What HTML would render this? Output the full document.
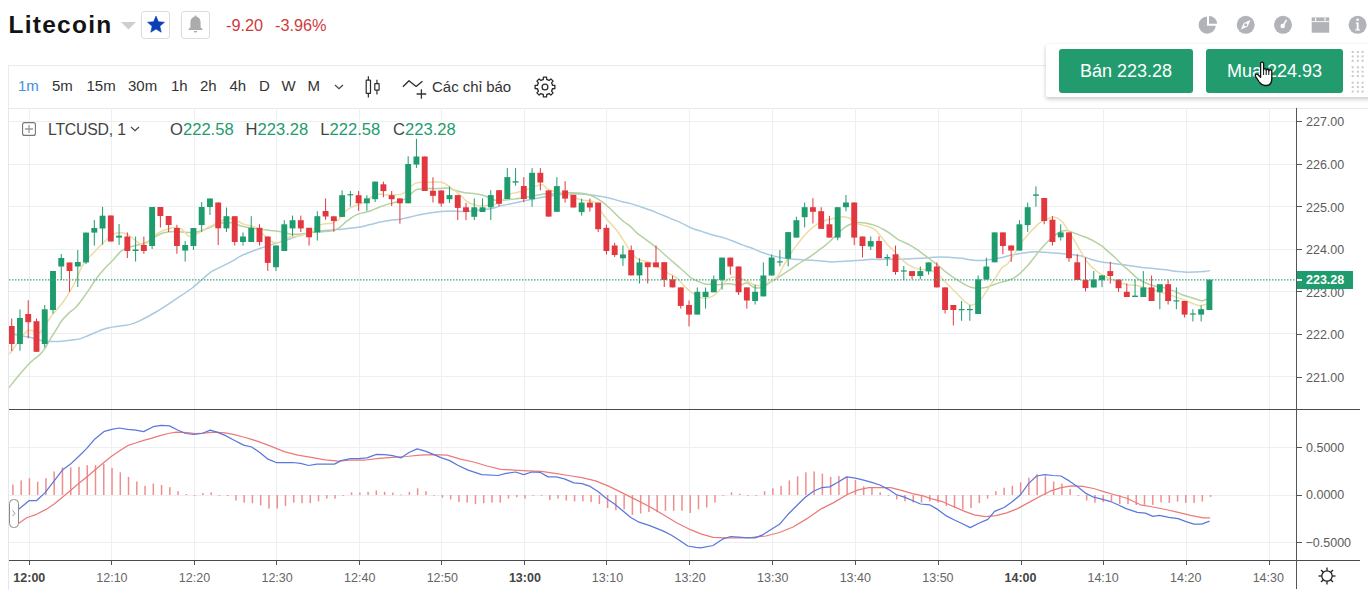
<!DOCTYPE html>
<html><head><meta charset="utf-8">
<style>
*{margin:0;padding:0;box-sizing:border-box}
html,body{width:1368px;height:590px;overflow:hidden;background:#fff;font-family:"Liberation Sans",sans-serif;}
.a{position:absolute;white-space:nowrap}
#title{left:8.5px;top:10px;font-size:24.5px;font-weight:bold;color:#131313;line-height:30px;letter-spacing:1.25px}
.chg{top:14.6px;font-size:16.3px;color:#cf3b3d;line-height:20px}
.btnbox{position:absolute;top:11px;width:29px;height:28px;border:1px solid #dcdcdc;border-radius:3px;background:#fff}
#toolbar{position:absolute;left:8px;top:65px;width:1360px;height:44px;border-top:1px solid #ebebeb;border-left:1px solid #ebebeb;border-bottom:1px solid #e6e8ea;background:#fff}
.tb{position:absolute;top:77px;font-size:15px;color:#333;line-height:18px}
.pl{position:absolute;left:1306px;font-size:12.5px;color:#5c5c5c;line-height:14px}
.tl{position:absolute;top:570.5px;width:60px;text-align:center;font-size:12.5px;color:#666;line-height:14px}
.tl.b{font-weight:bold;color:#444}
.lg{position:absolute;top:119.8px;font-size:16.6px;line-height:19px;color:#444}
.lg span{color:#1f9c6d}
#panel{position:absolute;left:1046px;top:44px;width:330px;height:53px;background:#fff;box-shadow:0 2px 4px rgba(0,0,0,0.22);border-radius:2px}
.bs{position:absolute;top:49px;height:44px;background:#229c6e;border-radius:3px;color:#fff;font-size:18px;line-height:44px;text-align:center}
</style></head><body>
<div id="toolbar"></div>
<svg width="1368" height="590" viewBox="0 0 1368 590" style="position:absolute;left:0;top:0"><g fill="#eeeff0"><rect x="29" y="108" width="1" height="452"/><rect x="111" y="108" width="1" height="452"/><rect x="194" y="108" width="1" height="452"/><rect x="276" y="108" width="1" height="452"/><rect x="359" y="108" width="1" height="452"/><rect x="441" y="108" width="1" height="452"/><rect x="524" y="108" width="1" height="452"/><rect x="606" y="108" width="1" height="452"/><rect x="689" y="108" width="1" height="452"/><rect x="772" y="108" width="1" height="452"/><rect x="855" y="108" width="1" height="452"/><rect x="938" y="108" width="1" height="452"/><rect x="1021" y="108" width="1" height="452"/><rect x="1103" y="108" width="1" height="452"/><rect x="1186" y="108" width="1" height="452"/><rect x="1269" y="108" width="1" height="452"/><rect x="9" y="121" width="1288" height="1"/><rect x="9" y="164" width="1288" height="1"/><rect x="9" y="206" width="1288" height="1"/><rect x="9" y="249" width="1288" height="1"/><rect x="9" y="291" width="1288" height="1"/><rect x="9" y="333" width="1288" height="1"/><rect x="9" y="376" width="1288" height="1"/><rect x="9" y="447" width="1288" height="1"/><rect x="9" y="495" width="1288" height="1"/><rect x="9" y="542" width="1288" height="1"/></g><path d="M9.0,334.0 C9.9,334.1 11.8,334.1 14.2,334.5 C16.6,334.9 20.9,335.8 23.7,336.3 C26.5,336.8 28.8,336.9 30.8,337.4 C32.8,337.9 33.2,338.6 35.6,339.2 C38.0,339.8 41.9,340.6 45.1,341.0 C48.3,341.4 51.4,341.6 54.6,341.6 C57.8,341.6 60.9,341.3 64.1,341.0 C67.2,340.7 70.7,340.2 73.5,339.8 C76.3,339.4 78.3,339.3 80.7,338.6 C83.1,337.9 85.4,336.7 87.8,335.7 C90.2,334.7 92.5,333.7 94.9,332.7 C97.3,331.7 99.6,330.5 102.0,329.7 C104.4,328.9 106.7,328.2 109.1,327.7 C111.5,327.2 113.9,326.9 116.3,326.5 C118.7,326.1 121.0,326.0 123.4,325.6 C125.8,325.2 127.7,325.2 130.5,324.4 C133.3,323.6 135.8,322.7 140.0,320.6 C144.2,318.5 150.2,315.5 156.0,312.0 C161.8,308.5 169.1,303.6 175.0,299.7 C180.9,295.8 187.1,291.8 191.5,288.5 C195.9,285.2 198.3,282.7 201.7,279.8 C205.1,276.9 208.5,273.6 211.9,271.4 C215.3,269.1 218.6,268.0 222.0,266.3 C225.4,264.6 229.2,262.9 232.2,261.2 C235.2,259.5 237.2,257.8 240.2,256.3 C243.2,254.8 246.9,253.3 250.3,252.0 C253.7,250.7 257.1,249.5 260.5,248.3 C263.9,247.1 267.3,246.0 270.7,244.9 C274.1,243.8 277.4,243.0 280.8,241.9 C284.2,240.8 287.6,239.6 291.0,238.5 C294.4,237.4 297.8,236.1 301.2,235.1 C304.6,234.1 308.0,233.2 311.4,232.5 C314.8,231.8 318.1,231.2 321.5,230.8 C324.9,230.4 328.3,230.3 331.7,230.0 C335.1,229.7 338.5,229.5 341.9,229.2 C345.3,228.9 349.0,228.4 352.0,228.0 C355.0,227.6 357.0,227.6 360.0,227.0 C363.0,226.4 366.8,225.4 370.2,224.6 C373.6,223.8 376.9,222.7 380.3,222.0 C383.7,221.3 387.1,220.8 390.5,220.3 C393.9,219.8 397.3,219.8 400.7,219.2 C404.1,218.6 407.4,217.7 410.8,216.9 C414.2,216.1 417.6,215.1 421.0,214.4 C424.4,213.7 427.8,213.2 431.2,212.7 C434.6,212.2 438.0,211.7 441.4,211.4 C444.8,211.1 448.1,211.0 451.5,211.0 C454.9,211.0 458.3,211.4 461.7,211.4 C465.1,211.4 468.5,211.3 471.9,211.0 C475.3,210.7 478.6,210.1 482.0,209.7 C485.4,209.3 489.2,209.1 492.2,208.5 C495.2,207.9 497.2,206.7 500.2,205.9 C503.2,205.1 506.9,204.6 510.3,203.9 C513.7,203.2 517.1,202.4 520.5,201.7 C523.9,201.0 527.3,200.2 530.7,199.5 C534.1,198.8 537.4,198.1 540.8,197.5 C544.2,196.9 547.6,196.3 551.0,195.8 C554.4,195.3 557.8,194.8 561.2,194.4 C564.6,194.1 568.0,193.8 571.4,193.7 C574.8,193.6 578.1,193.9 581.5,194.1 C584.9,194.3 588.3,194.5 591.7,194.9 C595.1,195.3 598.5,195.9 601.9,196.6 C605.3,197.2 608.6,198.0 612.0,198.8 C615.4,199.7 619.2,200.9 622.2,201.7 C625.2,202.5 627.0,202.6 630.0,203.4 C633.0,204.2 637.0,205.7 640.5,206.8 C644.0,207.9 647.3,208.9 650.7,210.2 C654.1,211.5 657.4,213.0 660.8,214.4 C664.2,215.8 667.6,217.2 671.0,218.6 C674.4,220.0 677.8,221.3 681.2,222.9 C684.6,224.5 688.0,226.6 691.4,228.0 C694.8,229.4 698.1,230.3 701.5,231.4 C704.9,232.5 708.3,233.7 711.7,234.7 C715.1,235.7 718.5,236.3 721.9,237.3 C725.3,238.3 728.6,239.4 732.0,240.7 C735.4,242.0 739.2,243.8 742.2,244.9 C745.2,246.0 747.2,246.4 750.2,247.5 C753.2,248.6 756.9,250.4 760.3,251.7 C763.7,253.0 767.1,254.1 770.5,255.1 C773.9,256.1 777.3,257.0 780.7,257.6 C784.1,258.2 787.4,258.6 790.8,259.0 C794.2,259.4 797.6,259.5 801.0,259.7 C804.4,259.9 807.8,260.0 811.2,260.2 C814.6,260.4 818.0,260.7 821.4,261.0 C824.8,261.3 828.1,261.8 831.5,261.9 C834.9,262.0 838.3,261.6 841.7,261.4 C845.1,261.2 848.5,260.9 851.9,260.7 C855.3,260.5 858.6,260.4 862.0,260.2 C865.4,260.0 869.2,259.4 872.2,259.3 C875.2,259.2 877.2,259.5 880.2,259.5 C883.2,259.5 886.9,259.2 890.3,259.2 C893.7,259.1 897.1,259.3 900.5,259.2 C903.9,259.1 907.3,258.9 910.7,258.8 C914.1,258.7 917.4,258.5 920.8,258.3 C924.2,258.1 927.6,257.7 931.0,257.5 C934.4,257.3 937.8,257.0 941.2,257.0 C944.6,257.0 948.0,257.3 951.4,257.5 C954.8,257.7 958.1,257.9 961.5,258.3 C964.9,258.7 968.3,259.6 971.7,260.0 C975.1,260.4 978.5,260.6 981.9,260.5 C985.3,260.4 988.6,259.7 992.0,259.2 C995.4,258.7 999.2,258.1 1002.2,257.5 C1005.2,256.9 1007.2,256.0 1010.2,255.3 C1013.2,254.7 1016.9,254.2 1020.3,253.6 C1023.7,253.0 1027.1,252.2 1030.5,251.9 C1033.9,251.6 1037.3,251.8 1040.7,251.9 C1044.1,252.0 1047.4,252.4 1050.8,252.7 C1054.2,253.0 1057.6,253.3 1061.0,253.6 C1064.4,253.9 1067.8,254.0 1071.2,254.4 C1074.6,254.8 1078.0,255.3 1081.4,256.1 C1084.8,257.0 1088.1,258.5 1091.5,259.5 C1094.9,260.5 1098.3,261.4 1101.7,262.0 C1105.1,262.6 1108.5,262.8 1111.9,263.2 C1115.3,263.6 1118.6,264.1 1122.0,264.6 C1125.4,265.1 1128.9,265.5 1132.2,266.0 C1135.5,266.5 1138.3,267.1 1141.9,267.5 C1145.5,267.9 1149.8,268.2 1153.7,268.6 C1157.7,269.0 1161.6,269.3 1165.6,269.8 C1169.5,270.3 1173.9,271.2 1177.4,271.6 C1181.0,272.0 1183.7,272.1 1186.9,272.2 C1190.1,272.3 1193.4,272.1 1196.4,272.0 C1199.4,271.9 1202.4,271.6 1204.7,271.4 C1207.0,271.2 1209.1,270.8 1210.0,270.7" fill="none" stroke="#a9cae0" stroke-width="1.5"/><path d="M9.0,388.0 C9.3,387.5 9.2,387.4 11.0,385.1 C12.8,382.8 17.0,377.5 20.0,374.0 C23.0,370.5 26.6,366.3 28.8,364.0 C31.0,361.7 31.3,361.6 33.2,360.0 C35.1,358.4 38.3,356.1 40.3,354.1 C42.3,352.1 43.5,350.5 45.1,348.1 C46.7,345.7 48.0,342.8 49.8,339.8 C51.6,336.8 53.8,333.5 55.8,330.3 C57.8,327.1 59.5,323.7 61.7,320.8 C63.9,317.9 66.4,315.4 68.8,313.1 C71.2,310.8 73.5,309.7 75.9,307.2 C78.3,304.7 80.8,301.3 83.0,298.3 C85.2,295.3 87.1,292.4 89.3,289.2 C91.5,286.0 93.8,282.1 96.1,279.0 C98.4,275.9 100.9,272.8 102.9,270.5 C104.9,268.2 106.2,266.8 108.0,265.0 C109.8,263.2 111.5,261.7 113.6,259.5 C115.6,257.3 118.0,253.9 120.3,251.9 C122.5,249.9 124.8,248.6 127.1,247.6 C129.4,246.6 131.6,246.5 133.9,245.9 C136.2,245.3 138.4,244.9 140.7,244.2 C143.0,243.5 145.2,242.8 147.5,241.7 C149.8,240.6 151.9,238.8 154.2,237.5 C156.4,236.2 158.7,234.6 161.0,233.7 C163.3,232.8 165.5,232.4 167.8,232.0 C170.1,231.6 172.3,231.5 174.6,231.5 C176.9,231.5 179.2,231.8 181.4,232.0 C183.7,232.2 185.8,232.3 188.1,232.4 C190.3,232.5 192.6,232.7 194.9,232.4 C197.2,232.1 199.4,231.4 201.7,230.7 C204.0,230.0 206.2,229.1 208.5,228.1 C210.8,227.1 213.1,225.5 215.3,224.7 C217.6,223.8 219.8,223.3 222.0,223.0 C224.2,222.7 226.5,222.5 228.8,222.6 C231.1,222.7 234.1,223.3 236.0,223.8 C237.9,224.3 237.8,225.1 240.2,225.8 C242.6,226.5 246.9,227.2 250.3,227.8 C253.7,228.4 257.1,228.8 260.5,229.2 C263.9,229.6 267.3,230.1 270.7,230.5 C274.1,230.9 277.4,231.1 280.8,231.7 C284.2,232.3 287.6,233.8 291.0,234.2 C294.4,234.6 297.8,234.2 301.2,233.9 C304.6,233.6 308.0,232.9 311.4,232.5 C314.8,232.1 318.1,232.0 321.5,231.7 C324.9,231.4 328.9,231.4 331.7,230.8 C334.5,230.2 336.2,229.7 338.5,228.3 C340.8,226.9 343.1,224.2 345.3,222.4 C347.6,220.6 349.8,218.7 352.0,217.3 C354.2,215.9 356.5,214.8 358.8,213.9 C361.1,213.1 363.7,212.7 365.6,212.2 C367.5,211.7 367.8,211.9 370.2,211.0 C372.6,210.1 376.9,208.1 380.3,206.8 C383.7,205.5 387.1,204.4 390.5,203.4 C393.9,202.4 397.9,201.8 400.7,200.8 C403.5,199.8 405.5,198.9 407.5,197.5 C409.5,196.1 410.8,193.8 412.5,192.4 C414.2,191.0 415.1,189.9 417.6,189.3 C420.2,188.7 424.4,188.7 427.8,188.6 C431.2,188.5 434.6,188.7 438.0,188.6 C441.4,188.5 445.3,187.8 448.1,188.1 C450.9,188.4 452.1,189.5 454.9,190.3 C457.7,191.1 461.7,192.1 465.1,192.7 C468.5,193.3 471.9,193.1 475.3,193.7 C478.7,194.2 482.6,195.0 485.4,196.0 C488.2,197.0 489.5,198.8 492.0,199.5 C494.5,200.2 497.1,200.5 500.2,200.5 C503.2,200.5 506.9,199.9 510.3,199.5 C513.7,199.1 517.1,198.8 520.5,198.3 C523.9,197.8 527.3,197.2 530.7,196.6 C534.1,195.9 537.4,194.9 540.8,194.4 C544.2,193.9 547.6,193.9 551.0,193.7 C554.4,193.5 557.8,193.4 561.2,193.2 C564.6,193.0 568.0,192.7 571.4,192.7 C574.8,192.7 578.1,192.7 581.5,193.2 C584.9,193.7 588.3,194.4 591.7,195.8 C595.1,197.2 598.9,199.6 601.9,201.7 C604.9,203.8 607.5,206.2 610.0,208.5 C612.5,210.8 614.5,213.1 616.8,215.3 C619.1,217.5 621.4,219.7 623.6,221.5 C625.9,223.3 628.0,224.4 630.3,226.3 C632.5,228.2 634.8,231.1 637.1,233.1 C639.4,235.1 641.6,236.4 643.9,238.1 C646.2,239.8 648.4,241.5 650.7,243.2 C653.0,244.9 655.2,246.5 657.5,248.3 C659.8,250.1 662.0,252.2 664.2,254.2 C666.5,256.2 668.7,258.2 671.0,260.2 C673.3,262.2 675.5,264.1 677.8,266.1 C680.1,268.1 682.3,270.0 684.6,272.0 C686.9,274.0 689.1,276.4 691.4,278.0 C693.6,279.6 695.9,280.4 698.1,281.4 C700.4,282.4 702.6,283.4 704.9,283.9 C707.2,284.4 709.4,284.3 711.7,284.4 C714.0,284.5 716.2,284.8 718.5,284.7 C720.8,284.6 723.0,284.0 725.3,283.9 C727.5,283.8 729.8,283.6 732.0,283.9 C734.2,284.2 736.3,285.7 738.8,285.6 C741.3,285.5 744.3,282.8 746.8,283.1 C749.3,283.4 751.6,286.5 753.6,287.3 C755.6,288.1 756.9,288.2 758.6,288.1 C760.3,288.0 761.7,287.4 763.7,286.4 C765.7,285.4 768.2,283.6 770.5,282.2 C772.8,280.8 775.0,279.4 777.3,278.0 C779.6,276.6 781.9,275.2 784.1,273.7 C786.4,272.2 788.5,270.8 790.8,269.2 C793.0,267.6 795.3,265.9 797.6,264.4 C799.9,262.9 802.1,261.6 804.4,260.2 C806.7,258.8 808.9,257.5 811.2,255.9 C813.5,254.3 815.8,252.5 818.0,250.8 C820.2,249.1 822.5,247.6 824.7,245.8 C827.0,244.0 829.2,241.9 831.5,239.8 C833.8,237.7 836.0,235.2 838.3,233.1 C840.6,231.0 842.8,228.7 845.1,227.1 C847.4,225.5 849.6,224.5 851.9,223.7 C854.1,222.9 856.4,222.5 858.6,222.4 C860.9,222.3 863.1,222.5 865.4,222.9 C867.7,223.3 870.3,224.1 872.2,224.6 C874.1,225.1 874.9,225.3 876.8,226.1 C878.7,226.9 881.4,228.2 883.6,229.5 C885.9,230.8 888.0,232.1 890.3,233.7 C892.5,235.2 894.8,237.4 897.1,238.8 C899.4,240.2 901.6,241.1 903.9,242.2 C906.2,243.3 908.4,244.3 910.7,245.6 C913.0,246.9 915.2,248.2 917.5,249.8 C919.8,251.4 922.0,253.2 924.2,254.9 C926.5,256.6 928.7,258.3 931.0,260.0 C933.3,261.7 935.5,263.3 937.8,265.1 C940.1,266.9 942.3,269.2 944.6,271.0 C946.9,272.8 949.1,274.6 951.4,276.1 C953.6,277.7 955.9,278.9 958.1,280.3 C960.4,281.7 962.6,283.4 964.9,284.6 C967.2,285.8 969.4,287.0 971.7,287.6 C974.0,288.2 976.2,288.3 978.5,288.3 C980.8,288.3 983.0,288.1 985.3,287.6 C987.5,287.1 989.8,286.2 992.0,285.4 C994.2,284.6 996.3,283.7 998.8,282.9 C1001.3,282.1 1004.3,281.5 1006.8,280.7 C1009.3,279.9 1011.4,279.4 1013.6,278.1 C1015.9,276.8 1018.0,275.1 1020.3,273.1 C1022.5,271.1 1024.8,268.9 1027.1,266.3 C1029.4,263.8 1031.6,260.6 1033.9,257.8 C1036.2,255.0 1038.4,252.0 1040.7,249.3 C1043.0,246.6 1045.2,243.9 1047.5,241.7 C1049.8,239.4 1052.0,237.5 1054.2,235.8 C1056.5,234.1 1058.7,232.3 1061.0,231.5 C1063.3,230.7 1065.5,230.4 1067.8,230.7 C1070.1,231.0 1072.3,232.3 1074.6,233.2 C1076.9,234.0 1079.2,235.0 1081.4,235.8 C1083.7,236.7 1085.8,237.3 1088.1,238.3 C1090.3,239.3 1092.6,240.4 1094.9,241.7 C1097.2,243.0 1099.4,244.2 1101.7,245.9 C1104.0,247.6 1106.2,249.9 1108.5,251.9 C1110.8,253.9 1113.0,255.7 1115.3,257.8 C1117.5,259.9 1119.8,262.5 1122.0,264.6 C1124.2,266.7 1126.3,268.2 1128.8,270.5 C1131.3,272.8 1134.5,276.1 1137.1,278.1 C1139.7,280.1 1141.4,281.0 1144.2,282.3 C1147.0,283.6 1150.5,284.9 1153.7,285.8 C1156.9,286.7 1160.0,286.8 1163.2,287.6 C1166.4,288.4 1169.5,289.4 1172.7,290.6 C1175.9,291.8 1179.0,293.5 1182.2,294.7 C1185.4,295.9 1188.6,296.7 1191.7,297.7 C1194.8,298.7 1198.7,300.4 1201.1,300.7 C1203.5,301.0 1204.5,300.1 1205.9,299.5 C1207.3,298.9 1209.0,297.4 1209.6,297.0" fill="none" stroke="#b5d2a0" stroke-width="1.5"/><path d="M9.0,354.0 C9.5,353.5 10.4,353.1 11.9,351.1 C13.4,349.1 15.8,345.0 17.8,342.2 C19.8,339.4 21.9,336.5 23.7,334.5 C25.5,332.5 26.9,330.9 28.5,330.3 C30.1,329.7 31.2,330.6 33.2,330.9 C35.2,331.2 37.9,333.6 40.3,332.1 C42.7,330.6 45.4,324.9 47.4,322.0 C49.4,319.1 50.6,317.0 52.2,314.9 C53.8,312.8 55.0,311.9 56.9,309.6 C58.8,307.3 61.8,304.0 63.9,301.0 C66.0,298.0 67.8,295.1 69.8,291.7 C71.8,288.3 74.0,284.5 75.8,280.7 C77.6,276.9 79.1,272.2 80.8,268.8 C82.5,265.4 83.9,262.8 85.9,260.3 C87.9,257.8 90.4,255.9 92.7,253.6 C95.0,251.3 97.2,248.9 99.5,246.5 C101.8,244.1 104.5,241.3 106.8,239.2 C109.1,237.1 111.3,235.2 113.6,234.1 C115.8,233.0 118.0,232.4 120.3,232.4 C122.5,232.4 124.8,233.0 127.1,234.1 C129.4,235.2 131.6,237.5 133.9,239.2 C136.2,240.9 138.4,243.6 140.7,244.2 C143.0,244.8 145.2,243.9 147.5,242.5 C149.8,241.1 151.9,237.6 154.2,235.8 C156.4,234.0 158.7,232.6 161.0,231.5 C163.3,230.4 165.5,229.7 167.8,229.0 C170.1,228.3 172.3,227.6 174.6,227.6 C176.9,227.6 179.2,227.6 181.4,229.0 C183.7,230.4 186.4,234.6 188.1,235.8 C189.8,237.0 189.8,236.5 191.5,236.1 C193.2,235.7 196.0,234.4 198.3,233.2 C200.6,232.0 202.8,230.3 205.1,229.0 C207.4,227.7 209.7,226.7 211.9,225.6 C214.2,224.5 216.3,223.2 218.6,222.2 C220.8,221.2 223.4,220.1 225.4,219.5 C227.4,218.9 228.6,218.4 230.5,218.6 C232.4,218.8 234.6,219.6 236.8,220.5 C239.0,221.4 241.3,223.2 243.6,224.1 C245.8,225.0 248.1,225.1 250.3,225.8 C252.6,226.5 254.8,226.8 257.1,228.3 C259.4,229.9 261.6,233.0 263.9,235.1 C266.2,237.2 268.4,239.7 270.7,241.0 C273.0,242.3 275.2,243.0 277.5,242.7 C279.8,242.4 281.9,240.3 284.2,239.3 C286.4,238.3 288.7,237.4 291.0,236.8 C293.3,236.2 295.5,236.3 297.8,235.9 C300.1,235.5 302.3,235.0 304.6,234.2 C306.9,233.3 309.1,232.2 311.4,230.8 C313.6,229.4 315.9,227.0 318.1,225.8 C320.4,224.6 322.6,224.1 324.9,223.7 C327.2,223.3 329.4,223.8 331.7,223.2 C334.0,222.5 336.2,221.8 338.5,219.8 C340.8,217.8 343.1,213.5 345.3,211.4 C347.6,209.3 349.8,208.3 352.0,207.1 C354.2,205.9 356.3,205.4 358.8,204.4 C361.3,203.4 364.3,202.3 366.8,200.8 C369.3,199.3 371.4,196.6 373.6,195.5 C375.9,194.4 378.1,194.2 380.3,194.1 C382.6,194.0 384.8,194.8 387.1,194.9 C389.4,195.0 391.6,195.0 393.9,194.9 C396.2,194.8 398.7,195.0 400.7,194.4 C402.7,193.8 404.1,192.8 405.8,191.5 C407.5,190.2 409.1,187.8 410.8,186.4 C412.5,185.0 413.9,183.8 415.9,183.1 C417.9,182.4 420.1,182.3 422.7,182.2 C425.2,182.0 428.6,182.2 431.2,182.2 C433.8,182.1 436.0,181.8 438.0,181.9 C440.0,182.0 441.4,182.1 443.1,182.7 C444.8,183.3 446.1,184.3 448.1,185.6 C450.1,186.9 452.6,188.9 454.9,190.7 C457.2,192.5 459.4,194.6 461.7,196.6 C464.0,198.6 466.2,201.1 468.5,202.5 C470.8,203.9 473.1,204.5 475.3,205.1 C477.6,205.7 479.8,205.9 482.0,205.9 C484.2,205.9 486.5,205.4 488.8,205.1 C491.1,204.8 493.1,205.2 495.6,204.2 C498.1,203.2 501.2,200.9 503.6,199.2 C506.1,197.5 508.1,195.2 510.3,194.1 C512.5,193.0 514.8,193.0 517.1,192.4 C519.4,191.8 521.6,191.4 523.9,190.7 C526.2,190.0 528.4,188.9 530.7,188.1 C533.0,187.2 535.5,186.2 537.5,185.6 C539.5,185.0 540.8,184.1 542.5,184.7 C544.2,185.3 545.6,187.9 547.6,189.0 C549.6,190.1 552.1,190.9 554.4,191.5 C556.7,192.1 558.9,192.0 561.2,192.4 C563.5,192.8 565.8,192.8 568.0,193.7 C570.2,194.5 572.5,196.4 574.7,197.5 C577.0,198.6 579.2,199.4 581.5,200.0 C583.8,200.6 586.0,200.4 588.3,200.8 C590.6,201.2 592.8,200.5 595.1,202.5 C597.4,204.5 599.6,209.6 601.9,212.7 C604.1,215.8 606.1,218.2 608.6,221.2 C611.1,224.2 614.3,227.2 616.8,230.5 C619.3,233.8 621.4,237.3 623.6,240.7 C625.9,244.1 628.0,247.8 630.3,250.8 C632.5,253.8 634.8,256.8 637.1,258.5 C639.4,260.2 641.6,260.3 643.9,261.0 C646.2,261.7 648.4,261.7 650.7,262.7 C653.0,263.7 655.2,265.5 657.5,266.9 C659.8,268.3 662.0,269.9 664.2,271.2 C666.5,272.5 668.7,273.3 671.0,274.6 C673.3,275.9 675.5,276.8 677.8,278.8 C680.1,280.8 682.3,284.1 684.6,286.4 C686.9,288.7 689.1,290.7 691.4,292.4 C693.6,294.1 695.9,295.6 698.1,296.6 C700.4,297.6 702.6,298.3 704.9,298.3 C707.2,298.3 709.4,297.7 711.7,296.6 C714.0,295.5 716.2,294.0 718.5,291.5 C720.8,289.0 723.0,283.8 725.3,281.4 C727.5,279.0 729.8,277.7 732.0,277.1 C734.2,276.5 736.3,277.4 738.8,278.0 C741.3,278.6 744.3,279.9 746.8,281.0 C749.3,282.1 751.6,283.9 753.6,284.7 C755.6,285.5 756.9,285.6 758.6,285.6 C760.3,285.6 761.7,285.4 763.7,284.7 C765.7,284.0 768.2,282.7 770.5,281.4 C772.8,280.1 775.3,279.4 777.3,277.1 C779.3,274.8 780.7,270.8 782.4,267.8 C784.1,264.8 785.8,262.1 787.5,259.3 C789.2,256.5 790.8,253.3 792.5,250.8 C794.2,248.3 795.6,246.6 797.6,244.1 C799.6,241.6 802.1,238.1 804.4,235.6 C806.7,233.1 808.9,230.8 811.2,228.8 C813.5,226.8 815.8,225.0 818.0,223.7 C820.2,222.3 822.5,221.5 824.7,220.7 C827.0,219.9 829.2,219.6 831.5,219.0 C833.8,218.4 836.0,217.7 838.3,217.3 C840.6,217.0 843.1,216.7 845.1,216.9 C847.1,217.1 848.5,217.6 850.2,218.6 C851.9,219.6 853.3,221.8 855.3,222.9 C857.3,224.0 859.8,224.4 862.0,225.1 C864.2,225.8 866.6,226.0 868.8,226.8 C871.0,227.6 873.2,228.4 875.1,229.8 C877.0,231.2 878.2,233.1 880.2,235.4 C882.2,237.8 884.6,241.4 886.9,243.9 C889.1,246.4 891.4,248.3 893.7,250.7 C896.0,253.1 898.2,256.1 900.5,258.3 C902.8,260.6 905.0,262.6 907.3,264.2 C909.6,265.8 911.9,266.8 914.1,267.6 C916.4,268.5 918.5,268.9 920.8,269.3 C923.0,269.7 925.6,269.9 927.6,270.2 C929.6,270.5 931.0,270.3 932.7,271.0 C934.4,271.7 935.8,272.7 937.8,274.4 C939.8,276.1 942.3,278.9 944.6,281.2 C946.9,283.5 949.1,285.8 951.4,288.0 C953.6,290.2 955.9,292.4 958.1,294.7 C960.4,296.9 962.9,299.8 964.9,301.5 C966.9,303.2 968.3,304.5 970.0,304.9 C971.7,305.3 973.1,305.2 975.1,304.1 C977.1,303.0 979.6,300.8 981.9,298.1 C984.1,295.4 986.4,291.4 988.6,288.0 C990.9,284.6 993.1,281.2 995.4,277.8 C997.7,274.4 1000.3,269.8 1002.2,267.6 C1004.1,265.4 1004.9,266.7 1006.8,264.6 C1008.7,262.6 1011.4,258.7 1013.6,255.3 C1015.9,251.9 1018.0,247.4 1020.3,244.2 C1022.5,240.9 1024.8,238.5 1027.1,235.8 C1029.4,233.1 1031.6,230.4 1033.9,228.1 C1036.2,225.8 1038.4,223.8 1040.7,222.2 C1043.0,220.6 1045.2,219.7 1047.5,218.8 C1049.8,218.0 1052.0,216.8 1054.2,217.1 C1056.5,217.4 1058.7,218.4 1061.0,220.5 C1063.3,222.6 1065.5,226.4 1067.8,229.8 C1070.1,233.2 1072.3,237.0 1074.6,240.8 C1076.9,244.6 1079.2,249.0 1081.4,252.7 C1083.7,256.4 1085.8,260.1 1088.1,262.9 C1090.3,265.7 1092.6,267.7 1094.9,269.7 C1097.2,271.7 1099.4,273.3 1101.7,274.7 C1104.0,276.1 1106.2,277.1 1108.5,278.1 C1110.8,279.1 1113.0,279.9 1115.3,280.7 C1117.5,281.5 1119.7,282.5 1122.0,283.2 C1124.3,283.9 1126.5,284.4 1129.0,284.8 C1131.5,285.2 1134.6,285.1 1137.1,285.6 C1139.6,286.1 1141.4,286.9 1144.2,287.6 C1147.0,288.3 1150.5,289.1 1153.7,290.0 C1156.9,290.9 1160.0,292.0 1163.2,293.0 C1166.4,294.0 1169.5,294.8 1172.7,295.9 C1175.9,297.0 1179.0,298.3 1182.2,299.5 C1185.4,300.7 1188.9,302.0 1191.7,303.0 C1194.5,304.0 1196.6,305.1 1198.8,305.4 C1201.0,305.7 1202.9,305.3 1204.7,304.8 C1206.5,304.3 1208.8,302.9 1209.6,302.5" fill="none" stroke="#eddca6" stroke-width="1.5"/><rect x="11.20" y="318.5" width="1" height="32.5" fill="#e2373e"/><rect x="8.75" y="326.0" width="5.9" height="18.0" fill="#e2373e"/><rect x="19.46" y="309.4" width="1" height="41.4" fill="#1f9c6d"/><rect x="17.01" y="318.0" width="5.9" height="26.0" fill="#1f9c6d"/><rect x="27.72" y="300.3" width="1" height="38.0" fill="#e2373e"/><rect x="25.27" y="314.0" width="5.9" height="8.2" fill="#e2373e"/><rect x="35.98" y="318.5" width="1" height="33.5" fill="#e2373e"/><rect x="33.53" y="321.2" width="5.9" height="30.6" fill="#e2373e"/><rect x="44.24" y="305.0" width="1" height="42.5" fill="#1f9c6d"/><rect x="41.79" y="309.3" width="5.9" height="34.7" fill="#1f9c6d"/><rect x="52.50" y="271.0" width="1" height="42.5" fill="#1f9c6d"/><rect x="50.05" y="271.0" width="5.9" height="39.0" fill="#1f9c6d"/><rect x="60.76" y="254.0" width="1" height="26.0" fill="#1f9c6d"/><rect x="58.31" y="258.0" width="5.9" height="8.5" fill="#1f9c6d"/><rect x="69.02" y="262.5" width="1" height="29.3" fill="#e2373e"/><rect x="66.57" y="262.5" width="5.9" height="8.5" fill="#e2373e"/><rect x="77.28" y="250.0" width="1" height="37.0" fill="#1f9c6d"/><rect x="74.83" y="262.0" width="5.9" height="4.5" fill="#1f9c6d"/><rect x="85.54" y="232.6" width="1" height="31.4" fill="#1f9c6d"/><rect x="83.09" y="232.6" width="5.9" height="29.9" fill="#1f9c6d"/><rect x="93.80" y="220.0" width="1" height="25.6" fill="#1f9c6d"/><rect x="91.35" y="228.0" width="5.9" height="4.6" fill="#1f9c6d"/><rect x="102.06" y="206.8" width="1" height="38.0" fill="#1f9c6d"/><rect x="99.61" y="215.7" width="5.9" height="12.8" fill="#1f9c6d"/><rect x="110.32" y="215.5" width="1" height="26.0" fill="#e2373e"/><rect x="107.87" y="215.5" width="5.9" height="26.0" fill="#e2373e"/><rect x="118.58" y="224.0" width="1" height="21.0" fill="#1f9c6d"/><rect x="116.13" y="235.7" width="5.9" height="1.9" fill="#1f9c6d"/><rect x="126.84" y="232.4" width="1" height="25.6" fill="#e2373e"/><rect x="124.39" y="236.5" width="5.9" height="14.5" fill="#e2373e"/><rect x="135.10" y="236.5" width="1" height="25.0" fill="#1f9c6d"/><rect x="132.65" y="249.5" width="5.9" height="1.5" fill="#1f9c6d"/><rect x="143.36" y="236.5" width="1" height="17.3" fill="#e2373e"/><rect x="140.91" y="245.0" width="5.9" height="6.0" fill="#e2373e"/><rect x="151.62" y="207.0" width="1" height="42.0" fill="#1f9c6d"/><rect x="149.17" y="207.0" width="5.9" height="39.0" fill="#1f9c6d"/><rect x="159.88" y="207.0" width="1" height="20.5" fill="#e2373e"/><rect x="157.43" y="207.0" width="5.9" height="9.0" fill="#e2373e"/><rect x="168.14" y="216.0" width="1" height="16.0" fill="#e2373e"/><rect x="165.69" y="216.0" width="5.9" height="9.0" fill="#e2373e"/><rect x="176.40" y="224.8" width="1" height="29.0" fill="#e2373e"/><rect x="173.95" y="228.0" width="5.9" height="18.0" fill="#e2373e"/><rect x="184.66" y="241.0" width="1" height="20.5" fill="#1f9c6d"/><rect x="182.21" y="245.0" width="5.9" height="5.6" fill="#1f9c6d"/><rect x="192.92" y="228.0" width="1" height="22.0" fill="#1f9c6d"/><rect x="190.47" y="228.0" width="5.9" height="18.0" fill="#1f9c6d"/><rect x="201.18" y="202.0" width="1" height="30.0" fill="#1f9c6d"/><rect x="198.73" y="207.0" width="5.9" height="18.0" fill="#1f9c6d"/><rect x="209.44" y="198.5" width="1" height="16.5" fill="#1f9c6d"/><rect x="206.99" y="198.5" width="5.9" height="8.5" fill="#1f9c6d"/><rect x="217.70" y="202.5" width="1" height="42.5" fill="#e2373e"/><rect x="215.25" y="202.5" width="5.9" height="25.8" fill="#e2373e"/><rect x="225.96" y="207.5" width="1" height="24.5" fill="#1f9c6d"/><rect x="223.51" y="216.2" width="5.9" height="12.2" fill="#1f9c6d"/><rect x="234.22" y="216.2" width="1" height="29.3" fill="#e2373e"/><rect x="231.77" y="216.2" width="5.9" height="25.8" fill="#e2373e"/><rect x="242.48" y="232.4" width="1" height="13.1" fill="#1f9c6d"/><rect x="240.03" y="236.5" width="5.9" height="5.5" fill="#1f9c6d"/><rect x="250.74" y="216.2" width="1" height="25.8" fill="#1f9c6d"/><rect x="248.29" y="227.8" width="5.9" height="14.2" fill="#1f9c6d"/><rect x="259.00" y="224.3" width="1" height="21.2" fill="#e2373e"/><rect x="256.55" y="227.8" width="5.9" height="14.2" fill="#e2373e"/><rect x="267.26" y="236.5" width="1" height="34.5" fill="#e2373e"/><rect x="264.81" y="236.5" width="5.9" height="26.4" fill="#e2373e"/><rect x="275.52" y="245.5" width="1" height="25.5" fill="#1f9c6d"/><rect x="273.07" y="245.5" width="5.9" height="21.7" fill="#1f9c6d"/><rect x="283.78" y="220.2" width="1" height="30.8" fill="#1f9c6d"/><rect x="281.33" y="224.3" width="5.9" height="26.7" fill="#1f9c6d"/><rect x="292.04" y="215.6" width="1" height="20.4" fill="#1f9c6d"/><rect x="289.59" y="220.2" width="5.9" height="8.2" fill="#1f9c6d"/><rect x="300.30" y="215.6" width="1" height="16.4" fill="#e2373e"/><rect x="297.85" y="220.2" width="5.9" height="8.2" fill="#e2373e"/><rect x="308.56" y="227.8" width="1" height="17.7" fill="#e2373e"/><rect x="306.11" y="227.8" width="5.9" height="9.5" fill="#e2373e"/><rect x="316.82" y="211.3" width="1" height="29.3" fill="#1f9c6d"/><rect x="314.37" y="216.2" width="5.9" height="16.2" fill="#1f9c6d"/><rect x="325.08" y="198.5" width="1" height="21.3" fill="#e2373e"/><rect x="322.63" y="211.0" width="5.9" height="5.5" fill="#e2373e"/><rect x="333.34" y="216.3" width="1" height="15.5" fill="#e2373e"/><rect x="330.89" y="216.3" width="5.9" height="4.7" fill="#e2373e"/><rect x="341.60" y="190.3" width="1" height="26.6" fill="#1f9c6d"/><rect x="339.15" y="195.2" width="5.9" height="21.7" fill="#1f9c6d"/><rect x="349.86" y="191.0" width="1" height="15.6" fill="#1f9c6d"/><rect x="347.41" y="194.2" width="5.9" height="1.2" fill="#1f9c6d"/><rect x="358.12" y="191.0" width="1" height="19.9" fill="#e2373e"/><rect x="355.67" y="195.2" width="5.9" height="8.1" fill="#e2373e"/><rect x="366.38" y="195.2" width="1" height="15.7" fill="#1f9c6d"/><rect x="363.93" y="198.4" width="5.9" height="4.9" fill="#1f9c6d"/><rect x="374.64" y="181.6" width="1" height="20.4" fill="#1f9c6d"/><rect x="372.19" y="181.6" width="5.9" height="17.6" fill="#1f9c6d"/><rect x="382.90" y="181.6" width="1" height="15.7" fill="#e2373e"/><rect x="380.45" y="184.3" width="5.9" height="6.8" fill="#e2373e"/><rect x="391.16" y="191.0" width="1" height="15.0" fill="#e2373e"/><rect x="388.71" y="195.2" width="5.9" height="4.0" fill="#e2373e"/><rect x="399.42" y="198.4" width="1" height="25.3" fill="#e2373e"/><rect x="396.97" y="198.4" width="5.9" height="4.9" fill="#e2373e"/><rect x="407.68" y="156.3" width="1" height="47.0" fill="#1f9c6d"/><rect x="405.23" y="164.0" width="5.9" height="39.3" fill="#1f9c6d"/><rect x="415.94" y="138.8" width="1" height="29.2" fill="#1f9c6d"/><rect x="413.49" y="156.5" width="5.9" height="8.1" fill="#1f9c6d"/><rect x="424.20" y="156.5" width="1" height="34.5" fill="#e2373e"/><rect x="421.75" y="156.5" width="5.9" height="34.5" fill="#e2373e"/><rect x="432.46" y="177.3" width="1" height="25.2" fill="#e2373e"/><rect x="430.01" y="190.7" width="5.9" height="5.1" fill="#e2373e"/><rect x="440.72" y="190.3" width="1" height="16.3" fill="#e2373e"/><rect x="438.27" y="190.5" width="5.9" height="13.0" fill="#e2373e"/><rect x="448.98" y="186.5" width="1" height="16.5" fill="#1f9c6d"/><rect x="446.53" y="195.1" width="5.9" height="4.1" fill="#1f9c6d"/><rect x="457.24" y="195.1" width="1" height="25.0" fill="#e2373e"/><rect x="454.79" y="195.1" width="5.9" height="12.8" fill="#e2373e"/><rect x="465.50" y="203.0" width="1" height="17.1" fill="#e2373e"/><rect x="463.05" y="207.3" width="5.9" height="4.7" fill="#e2373e"/><rect x="473.76" y="198.4" width="1" height="21.7" fill="#1f9c6d"/><rect x="471.31" y="207.3" width="5.9" height="9.5" fill="#1f9c6d"/><rect x="482.02" y="198.4" width="1" height="13.6" fill="#1f9c6d"/><rect x="479.57" y="207.3" width="5.9" height="4.7" fill="#1f9c6d"/><rect x="490.28" y="190.2" width="1" height="29.9" fill="#1f9c6d"/><rect x="487.83" y="195.1" width="5.9" height="12.2" fill="#1f9c6d"/><rect x="498.54" y="190.2" width="1" height="16.3" fill="#e2373e"/><rect x="496.09" y="190.2" width="5.9" height="13.6" fill="#e2373e"/><rect x="506.80" y="168.1" width="1" height="30.9" fill="#1f9c6d"/><rect x="504.35" y="177.1" width="5.9" height="21.9" fill="#1f9c6d"/><rect x="515.06" y="168.1" width="1" height="17.6" fill="#1f9c6d"/><rect x="512.61" y="181.2" width="5.9" height="1.4" fill="#1f9c6d"/><rect x="523.32" y="177.1" width="1" height="25.1" fill="#e2373e"/><rect x="520.87" y="186.0" width="5.9" height="13.0" fill="#e2373e"/><rect x="531.58" y="168.1" width="1" height="38.6" fill="#1f9c6d"/><rect x="529.13" y="172.8" width="5.9" height="26.4" fill="#1f9c6d"/><rect x="539.84" y="168.1" width="1" height="22.3" fill="#e2373e"/><rect x="537.39" y="172.8" width="5.9" height="9.7" fill="#e2373e"/><rect x="548.10" y="190.4" width="1" height="26.2" fill="#e2373e"/><rect x="545.65" y="190.4" width="5.9" height="26.2" fill="#e2373e"/><rect x="556.36" y="177.1" width="1" height="34.7" fill="#1f9c6d"/><rect x="553.91" y="186.1" width="5.9" height="25.7" fill="#1f9c6d"/><rect x="564.62" y="181.2" width="1" height="21.4" fill="#e2373e"/><rect x="562.17" y="190.4" width="5.9" height="8.2" fill="#e2373e"/><rect x="572.88" y="194.8" width="1" height="12.7" fill="#e2373e"/><rect x="570.43" y="194.8" width="5.9" height="12.7" fill="#e2373e"/><rect x="581.14" y="198.6" width="1" height="17.1" fill="#1f9c6d"/><rect x="578.69" y="202.6" width="5.9" height="9.5" fill="#1f9c6d"/><rect x="589.40" y="198.6" width="1" height="13.0" fill="#e2373e"/><rect x="586.95" y="202.6" width="5.9" height="4.9" fill="#e2373e"/><rect x="597.66" y="202.6" width="1" height="29.4" fill="#e2373e"/><rect x="595.21" y="202.6" width="5.9" height="26.6" fill="#e2373e"/><rect x="605.92" y="224.6" width="1" height="29.9" fill="#e2373e"/><rect x="603.47" y="227.9" width="5.9" height="23.1" fill="#e2373e"/><rect x="614.18" y="242.8" width="1" height="14.2" fill="#e2373e"/><rect x="611.73" y="245.5" width="5.9" height="9.5" fill="#e2373e"/><rect x="622.44" y="245.5" width="1" height="20.4" fill="#1f9c6d"/><rect x="619.99" y="254.5" width="5.9" height="3.8" fill="#1f9c6d"/><rect x="630.70" y="245.5" width="1" height="29.9" fill="#e2373e"/><rect x="628.25" y="250.1" width="5.9" height="25.3" fill="#e2373e"/><rect x="638.96" y="258.3" width="1" height="25.2" fill="#1f9c6d"/><rect x="636.51" y="262.4" width="5.9" height="13.0" fill="#1f9c6d"/><rect x="647.22" y="262.4" width="1" height="21.1" fill="#e2373e"/><rect x="644.77" y="262.4" width="5.9" height="4.8" fill="#e2373e"/><rect x="655.48" y="245.5" width="1" height="21.7" fill="#e2373e"/><rect x="653.03" y="262.4" width="5.9" height="4.8" fill="#e2373e"/><rect x="663.74" y="262.2" width="1" height="24.8" fill="#e2373e"/><rect x="661.29" y="262.2" width="5.9" height="17.8" fill="#e2373e"/><rect x="672.00" y="275.5" width="1" height="11.9" fill="#e2373e"/><rect x="669.55" y="279.3" width="5.9" height="8.1" fill="#e2373e"/><rect x="680.26" y="287.4" width="1" height="21.2" fill="#e2373e"/><rect x="677.81" y="287.4" width="5.9" height="18.5" fill="#e2373e"/><rect x="688.52" y="300.5" width="1" height="25.8" fill="#e2373e"/><rect x="686.07" y="305.0" width="5.9" height="9.6" fill="#e2373e"/><rect x="696.78" y="287.4" width="1" height="27.2" fill="#1f9c6d"/><rect x="694.33" y="291.8" width="5.9" height="22.8" fill="#1f9c6d"/><rect x="705.04" y="287.6" width="1" height="21.0" fill="#1f9c6d"/><rect x="702.59" y="291.8" width="5.9" height="5.2" fill="#1f9c6d"/><rect x="713.30" y="275.5" width="1" height="16.8" fill="#1f9c6d"/><rect x="710.85" y="279.3" width="5.9" height="13.0" fill="#1f9c6d"/><rect x="721.56" y="257.6" width="1" height="32.0" fill="#1f9c6d"/><rect x="719.11" y="257.6" width="5.9" height="22.5" fill="#1f9c6d"/><rect x="729.82" y="257.6" width="1" height="17.1" fill="#e2373e"/><rect x="727.37" y="257.6" width="5.9" height="8.9" fill="#e2373e"/><rect x="738.08" y="266.5" width="1" height="28.5" fill="#e2373e"/><rect x="735.63" y="266.5" width="5.9" height="25.8" fill="#e2373e"/><rect x="746.34" y="287.4" width="1" height="21.2" fill="#e2373e"/><rect x="743.89" y="287.4" width="5.9" height="13.1" fill="#e2373e"/><rect x="754.60" y="284.7" width="1" height="19.8" fill="#1f9c6d"/><rect x="752.15" y="291.8" width="5.9" height="9.2" fill="#1f9c6d"/><rect x="762.86" y="262.4" width="1" height="34.0" fill="#1f9c6d"/><rect x="760.41" y="275.5" width="5.9" height="20.9" fill="#1f9c6d"/><rect x="771.12" y="254.5" width="1" height="21.0" fill="#1f9c6d"/><rect x="768.67" y="257.5" width="5.9" height="18.0" fill="#1f9c6d"/><rect x="779.38" y="250.0" width="1" height="16.3" fill="#1f9c6d"/><rect x="776.93" y="261.3" width="5.9" height="1.2" fill="#1f9c6d"/><rect x="787.64" y="232.1" width="1" height="34.2" fill="#1f9c6d"/><rect x="785.19" y="232.1" width="5.9" height="26.6" fill="#1f9c6d"/><rect x="795.90" y="216.7" width="1" height="20.9" fill="#1f9c6d"/><rect x="793.45" y="220.2" width="5.9" height="17.4" fill="#1f9c6d"/><rect x="804.16" y="202.5" width="1" height="25.0" fill="#1f9c6d"/><rect x="801.71" y="207.2" width="5.9" height="10.0" fill="#1f9c6d"/><rect x="812.42" y="198.2" width="1" height="25.2" fill="#e2373e"/><rect x="809.97" y="207.2" width="5.9" height="4.6" fill="#e2373e"/><rect x="820.68" y="207.2" width="1" height="21.7" fill="#e2373e"/><rect x="818.23" y="211.2" width="5.9" height="17.7" fill="#e2373e"/><rect x="828.94" y="215.8" width="1" height="21.8" fill="#e2373e"/><rect x="826.49" y="224.3" width="5.9" height="13.3" fill="#e2373e"/><rect x="837.20" y="207.2" width="1" height="33.1" fill="#1f9c6d"/><rect x="834.75" y="207.2" width="5.9" height="30.4" fill="#1f9c6d"/><rect x="845.46" y="195.0" width="1" height="16.2" fill="#1f9c6d"/><rect x="843.01" y="202.5" width="5.9" height="4.7" fill="#1f9c6d"/><rect x="853.72" y="202.5" width="1" height="42.7" fill="#e2373e"/><rect x="851.27" y="202.5" width="5.9" height="35.1" fill="#e2373e"/><rect x="861.98" y="236.5" width="1" height="20.9" fill="#e2373e"/><rect x="859.53" y="236.5" width="5.9" height="9.5" fill="#e2373e"/><rect x="870.24" y="236.5" width="1" height="13.5" fill="#1f9c6d"/><rect x="867.79" y="241.1" width="5.9" height="5.4" fill="#1f9c6d"/><rect x="878.50" y="236.3" width="1" height="21.9" fill="#e2373e"/><rect x="876.05" y="241.0" width="5.9" height="17.2" fill="#e2373e"/><rect x="886.76" y="254.3" width="1" height="11.7" fill="#1f9c6d"/><rect x="884.31" y="257.0" width="5.9" height="1.4" fill="#1f9c6d"/><rect x="895.02" y="245.6" width="1" height="29.1" fill="#e2373e"/><rect x="892.57" y="254.3" width="5.9" height="17.7" fill="#e2373e"/><rect x="903.28" y="266.0" width="1" height="14.1" fill="#1f9c6d"/><rect x="900.83" y="270.4" width="5.9" height="1.2" fill="#1f9c6d"/><rect x="911.54" y="271.1" width="1" height="8.2" fill="#e2373e"/><rect x="909.09" y="271.1" width="5.9" height="4.9" fill="#e2373e"/><rect x="919.80" y="266.5" width="1" height="12.8" fill="#1f9c6d"/><rect x="917.35" y="271.1" width="5.9" height="4.9" fill="#1f9c6d"/><rect x="928.06" y="262.4" width="1" height="12.3" fill="#1f9c6d"/><rect x="925.61" y="262.4" width="5.9" height="9.0" fill="#1f9c6d"/><rect x="936.32" y="262.4" width="1" height="25.0" fill="#e2373e"/><rect x="933.87" y="266.5" width="5.9" height="20.9" fill="#e2373e"/><rect x="944.58" y="287.4" width="1" height="26.1" fill="#e2373e"/><rect x="942.13" y="287.4" width="5.9" height="22.6" fill="#e2373e"/><rect x="952.84" y="305.0" width="1" height="20.4" fill="#e2373e"/><rect x="950.39" y="305.0" width="5.9" height="5.0" fill="#e2373e"/><rect x="961.10" y="301.0" width="1" height="19.8" fill="#1f9c6d"/><rect x="958.65" y="309.0" width="5.9" height="1.2" fill="#1f9c6d"/><rect x="969.36" y="305.0" width="1" height="15.8" fill="#1f9c6d"/><rect x="966.91" y="309.0" width="5.9" height="1.2" fill="#1f9c6d"/><rect x="977.62" y="275.5" width="1" height="38.5" fill="#1f9c6d"/><rect x="975.17" y="279.3" width="5.9" height="34.7" fill="#1f9c6d"/><rect x="985.88" y="257.6" width="1" height="22.0" fill="#1f9c6d"/><rect x="983.43" y="266.5" width="5.9" height="13.1" fill="#1f9c6d"/><rect x="994.14" y="232.4" width="1" height="29.9" fill="#1f9c6d"/><rect x="991.69" y="232.4" width="5.9" height="29.9" fill="#1f9c6d"/><rect x="1002.40" y="232.4" width="1" height="21.8" fill="#e2373e"/><rect x="999.95" y="232.4" width="5.9" height="13.6" fill="#e2373e"/><rect x="1010.66" y="245.5" width="1" height="16.3" fill="#e2373e"/><rect x="1008.21" y="245.5" width="5.9" height="5.1" fill="#e2373e"/><rect x="1018.92" y="220.2" width="1" height="30.4" fill="#1f9c6d"/><rect x="1016.47" y="224.3" width="5.9" height="26.3" fill="#1f9c6d"/><rect x="1027.18" y="202.6" width="1" height="29.3" fill="#1f9c6d"/><rect x="1024.73" y="207.2" width="5.9" height="17.9" fill="#1f9c6d"/><rect x="1035.44" y="186.3" width="1" height="20.4" fill="#1f9c6d"/><rect x="1032.99" y="194.4" width="5.9" height="1.4" fill="#1f9c6d"/><rect x="1043.70" y="198.0" width="1" height="26.3" fill="#e2373e"/><rect x="1041.25" y="198.0" width="5.9" height="23.0" fill="#e2373e"/><rect x="1051.96" y="216.2" width="1" height="29.3" fill="#e2373e"/><rect x="1049.51" y="219.7" width="5.9" height="22.3" fill="#e2373e"/><rect x="1060.22" y="224.3" width="1" height="16.3" fill="#1f9c6d"/><rect x="1057.77" y="232.4" width="5.9" height="4.9" fill="#1f9c6d"/><rect x="1068.48" y="232.4" width="1" height="29.4" fill="#e2373e"/><rect x="1066.03" y="232.4" width="5.9" height="25.8" fill="#e2373e"/><rect x="1076.74" y="254.2" width="1" height="25.8" fill="#e2373e"/><rect x="1074.29" y="262.3" width="5.9" height="17.7" fill="#e2373e"/><rect x="1085.00" y="257.4" width="1" height="34.0" fill="#e2373e"/><rect x="1082.55" y="280.0" width="5.9" height="8.1" fill="#e2373e"/><rect x="1093.26" y="271.0" width="1" height="16.5" fill="#1f9c6d"/><rect x="1090.81" y="279.5" width="5.9" height="8.0" fill="#1f9c6d"/><rect x="1101.52" y="275.4" width="1" height="11.7" fill="#1f9c6d"/><rect x="1099.07" y="275.4" width="5.9" height="4.9" fill="#1f9c6d"/><rect x="1109.78" y="261.9" width="1" height="21.7" fill="#e2373e"/><rect x="1107.33" y="271.1" width="5.9" height="4.9" fill="#e2373e"/><rect x="1118.04" y="279.6" width="1" height="12.2" fill="#e2373e"/><rect x="1115.59" y="279.6" width="5.9" height="8.6" fill="#e2373e"/><rect x="1126.30" y="283.6" width="1" height="13.4" fill="#e2373e"/><rect x="1123.85" y="291.8" width="5.9" height="5.2" fill="#e2373e"/><rect x="1134.56" y="279.6" width="1" height="17.4" fill="#1f9c6d"/><rect x="1132.11" y="295.6" width="5.9" height="1.4" fill="#1f9c6d"/><rect x="1142.82" y="271.1" width="1" height="25.9" fill="#1f9c6d"/><rect x="1140.37" y="287.4" width="5.9" height="9.6" fill="#1f9c6d"/><rect x="1151.08" y="275.5" width="1" height="25.5" fill="#e2373e"/><rect x="1148.63" y="287.4" width="5.9" height="13.6" fill="#e2373e"/><rect x="1159.34" y="284.2" width="1" height="25.0" fill="#1f9c6d"/><rect x="1156.89" y="284.2" width="5.9" height="8.1" fill="#1f9c6d"/><rect x="1167.60" y="279.6" width="1" height="24.9" fill="#e2373e"/><rect x="1165.15" y="284.2" width="5.9" height="16.8" fill="#e2373e"/><rect x="1175.86" y="287.4" width="1" height="21.8" fill="#1f9c6d"/><rect x="1173.41" y="300.3" width="5.9" height="1.2" fill="#1f9c6d"/><rect x="1184.12" y="301.0" width="1" height="16.6" fill="#e2373e"/><rect x="1181.67" y="301.0" width="5.9" height="13.6" fill="#e2373e"/><rect x="1192.38" y="309.2" width="1" height="12.2" fill="#1f9c6d"/><rect x="1189.93" y="313.4" width="5.9" height="1.2" fill="#1f9c6d"/><rect x="1200.64" y="305.3" width="1" height="16.1" fill="#1f9c6d"/><rect x="1198.19" y="309.2" width="5.9" height="5.4" fill="#1f9c6d"/><rect x="1208.90" y="279.6" width="1" height="30.4" fill="#1f9c6d"/><rect x="1206.45" y="279.6" width="5.9" height="30.4" fill="#1f9c6d"/><line x1="9" y1="279.8" x2="1297" y2="279.8" stroke="#3aa57c" stroke-width="1.3" stroke-dasharray="1.5 1.5"/><g fill="#ef8e8e"><rect x="12.15" y="484.5" width="1.5" height="10.5"/><rect x="20.41" y="480.4" width="1.5" height="14.6"/><rect x="28.67" y="478.2" width="1.5" height="16.8"/><rect x="36.93" y="481.7" width="1.5" height="13.3"/><rect x="45.19" y="478.2" width="1.5" height="16.8"/><rect x="53.45" y="471.4" width="1.5" height="23.6"/><rect x="61.71" y="467.4" width="1.5" height="27.6"/><rect x="69.97" y="467.4" width="1.5" height="27.6"/><rect x="78.23" y="466.8" width="1.5" height="28.2"/><rect x="86.49" y="465.2" width="1.5" height="29.8"/><rect x="94.75" y="465.2" width="1.5" height="29.8"/><rect x="103.01" y="464.1" width="1.5" height="30.9"/><rect x="111.27" y="467.9" width="1.5" height="27.1"/><rect x="119.53" y="472.3" width="1.5" height="22.7"/><rect x="127.79" y="476.9" width="1.5" height="18.1"/><rect x="136.05" y="481.5" width="1.5" height="13.5"/><rect x="144.31" y="485.8" width="1.5" height="9.2"/><rect x="152.57" y="483.6" width="1.5" height="11.4"/><rect x="160.83" y="485.0" width="1.5" height="10.0"/><rect x="169.09" y="487.2" width="1.5" height="7.8"/><rect x="177.35" y="491.2" width="1.5" height="3.8"/><rect x="185.61" y="494.0" width="1.5" height="1.0"/><rect x="193.87" y="495.0" width="1.5" height="0.8"/><rect x="202.13" y="493.0" width="1.5" height="2.0"/><rect x="210.39" y="492.3" width="1.5" height="2.7"/><rect x="218.65" y="495.0" width="1.5" height="0.8"/><rect x="226.91" y="495.0" width="1.5" height="1.0"/><rect x="235.17" y="495.0" width="1.5" height="5.5"/><rect x="243.43" y="495.0" width="1.5" height="7.6"/><rect x="251.69" y="495.0" width="1.5" height="8.2"/><rect x="259.95" y="495.0" width="1.5" height="10.3"/><rect x="268.21" y="495.0" width="1.5" height="13.6"/><rect x="276.47" y="495.0" width="1.5" height="13.6"/><rect x="284.73" y="495.0" width="1.5" height="10.9"/><rect x="292.99" y="495.0" width="1.5" height="7.6"/><rect x="301.25" y="495.0" width="1.5" height="8.2"/><rect x="309.51" y="495.0" width="1.5" height="8.2"/><rect x="317.77" y="495.0" width="1.5" height="6.3"/><rect x="326.03" y="495.0" width="1.5" height="3.6"/><rect x="334.29" y="495.0" width="1.5" height="3.6"/><rect x="342.55" y="495.0" width="1.5" height="0.8"/><rect x="350.81" y="492.3" width="1.5" height="2.7"/><rect x="359.07" y="492.6" width="1.5" height="2.4"/><rect x="367.33" y="491.8" width="1.5" height="3.2"/><rect x="375.59" y="490.4" width="1.5" height="4.6"/><rect x="383.85" y="491.8" width="1.5" height="3.2"/><rect x="392.11" y="492.6" width="1.5" height="2.4"/><rect x="400.37" y="494.5" width="1.5" height="0.8"/><rect x="408.63" y="491.8" width="1.5" height="3.2"/><rect x="416.89" y="488.3" width="1.5" height="6.7"/><rect x="425.15" y="491.2" width="1.5" height="3.8"/><rect x="433.41" y="495.0" width="1.5" height="0.8"/><rect x="441.67" y="495.0" width="1.5" height="2.7"/><rect x="449.93" y="495.0" width="1.5" height="4.4"/><rect x="458.19" y="495.0" width="1.5" height="7.1"/><rect x="466.45" y="495.0" width="1.5" height="7.6"/><rect x="474.71" y="495.0" width="1.5" height="9.0"/><rect x="482.97" y="495.0" width="1.5" height="8.2"/><rect x="491.23" y="495.0" width="1.5" height="7.6"/><rect x="499.49" y="495.0" width="1.5" height="7.6"/><rect x="507.75" y="495.0" width="1.5" height="3.6"/><rect x="516.01" y="495.0" width="1.5" height="2.2"/><rect x="524.27" y="495.0" width="1.5" height="3.6"/><rect x="532.53" y="495.0" width="1.5" height="0.8"/><rect x="540.79" y="495.0" width="1.5" height="0.8"/><rect x="549.05" y="495.0" width="1.5" height="4.9"/><rect x="557.31" y="495.0" width="1.5" height="3.6"/><rect x="565.57" y="495.0" width="1.5" height="5.5"/><rect x="573.83" y="495.0" width="1.5" height="6.3"/><rect x="582.09" y="495.0" width="1.5" height="6.3"/><rect x="590.35" y="495.0" width="1.5" height="7.1"/><rect x="598.61" y="495.0" width="1.5" height="9.0"/><rect x="606.87" y="495.0" width="1.5" height="13.0"/><rect x="615.13" y="495.0" width="1.5" height="15.2"/><rect x="623.39" y="495.0" width="1.5" height="14.4"/><rect x="631.65" y="495.0" width="1.5" height="19.8"/><rect x="639.91" y="495.0" width="1.5" height="18.5"/><rect x="648.17" y="495.0" width="1.5" height="17.1"/><rect x="656.43" y="495.0" width="1.5" height="17.1"/><rect x="664.69" y="495.0" width="1.5" height="15.8"/><rect x="672.95" y="495.0" width="1.5" height="15.8"/><rect x="681.21" y="495.0" width="1.5" height="15.8"/><rect x="689.47" y="495.0" width="1.5" height="17.9"/><rect x="697.73" y="495.0" width="1.5" height="14.4"/><rect x="705.99" y="495.0" width="1.5" height="12.5"/><rect x="714.25" y="495.0" width="1.5" height="7.6"/><rect x="722.51" y="495.0" width="1.5" height="0.8"/><rect x="730.77" y="492.3" width="1.5" height="2.7"/><rect x="739.03" y="493.7" width="1.5" height="1.3"/><rect x="747.29" y="495.0" width="1.5" height="0.8"/><rect x="755.55" y="495.0" width="1.5" height="0.8"/><rect x="763.81" y="491.2" width="1.5" height="3.8"/><rect x="772.07" y="488.3" width="1.5" height="6.7"/><rect x="780.33" y="485.8" width="1.5" height="9.2"/><rect x="788.59" y="480.4" width="1.5" height="14.6"/><rect x="796.85" y="476.3" width="1.5" height="18.7"/><rect x="805.11" y="472.3" width="1.5" height="22.7"/><rect x="813.37" y="471.4" width="1.5" height="23.6"/><rect x="821.63" y="473.6" width="1.5" height="21.4"/><rect x="829.89" y="476.9" width="1.5" height="18.1"/><rect x="838.15" y="476.0" width="1.5" height="19.0"/><rect x="846.41" y="476.9" width="1.5" height="18.1"/><rect x="854.67" y="480.1" width="1.5" height="14.9"/><rect x="862.93" y="486.4" width="1.5" height="8.6"/><rect x="871.19" y="487.7" width="1.5" height="7.3"/><rect x="879.45" y="492.3" width="1.5" height="2.7"/><rect x="887.71" y="495.0" width="1.5" height="0.8"/><rect x="895.97" y="495.0" width="1.5" height="4.4"/><rect x="904.23" y="495.0" width="1.5" height="6.3"/><rect x="912.49" y="495.0" width="1.5" height="7.6"/><rect x="920.75" y="495.0" width="1.5" height="7.6"/><rect x="929.01" y="495.0" width="1.5" height="6.3"/><rect x="937.27" y="495.0" width="1.5" height="7.6"/><rect x="945.53" y="495.0" width="1.5" height="10.9"/><rect x="953.79" y="495.0" width="1.5" height="12.5"/><rect x="962.05" y="495.0" width="1.5" height="14.4"/><rect x="970.31" y="495.0" width="1.5" height="13.0"/><rect x="978.57" y="495.0" width="1.5" height="8.2"/><rect x="986.83" y="495.0" width="1.5" height="3.6"/><rect x="995.09" y="491.2" width="1.5" height="3.8"/><rect x="1003.35" y="487.7" width="1.5" height="7.3"/><rect x="1011.61" y="485.8" width="1.5" height="9.2"/><rect x="1019.87" y="482.3" width="1.5" height="12.7"/><rect x="1028.13" y="477.7" width="1.5" height="17.3"/><rect x="1036.39" y="474.2" width="1.5" height="20.8"/><rect x="1044.65" y="476.3" width="1.5" height="18.7"/><rect x="1052.91" y="481.5" width="1.5" height="13.5"/><rect x="1061.17" y="483.6" width="1.5" height="11.4"/><rect x="1069.43" y="489.1" width="1.5" height="5.9"/><rect x="1077.69" y="495.0" width="1.5" height="0.8"/><rect x="1085.95" y="495.0" width="1.5" height="5.5"/><rect x="1094.21" y="495.0" width="1.5" height="7.6"/><rect x="1102.47" y="495.0" width="1.5" height="7.1"/><rect x="1110.73" y="495.0" width="1.5" height="6.3"/><rect x="1118.99" y="495.0" width="1.5" height="9.0"/><rect x="1127.25" y="495.0" width="1.5" height="9.0"/><rect x="1135.51" y="495.0" width="1.5" height="10.0"/><rect x="1143.77" y="495.0" width="1.5" height="9.8"/><rect x="1152.03" y="495.0" width="1.5" height="9.8"/><rect x="1160.29" y="495.0" width="1.5" height="7.3"/><rect x="1168.55" y="495.0" width="1.5" height="7.9"/><rect x="1176.81" y="495.0" width="1.5" height="6.6"/><rect x="1185.07" y="495.0" width="1.5" height="7.9"/><rect x="1193.33" y="495.0" width="1.5" height="7.9"/><rect x="1201.59" y="495.0" width="1.5" height="6.6"/><rect x="1209.85" y="495.0" width="1.5" height="1.9"/></g><path d="M18.4,523.5 L27.1,517.5 L36.6,514.3 L46.1,509.4 L54.2,504.0 L62.4,497.2 L70.5,490.4 L78.6,483.6 L86.8,476.9 L94.9,470.1 L103.0,463.3 L111.2,456.5 L119.3,451.1 L127.5,445.7 L135.6,443.0 L143.7,440.3 L151.9,438.1 L160.0,435.6 L168.1,433.5 L176.3,432.1 L187.1,432.7 L195.3,433.5 L203.4,433.2 L214.2,432.1 L225.1,432.9 L233.2,434.3 L243.6,437.0 L257.1,441.1 L270.7,446.2 L284.2,451.6 L297.8,455.2 L311.4,457.3 L324.9,459.8 L338.5,461.1 L352.0,460.0 L365.6,460.0 L379.2,458.4 L392.7,457.3 L406.3,456.5 L419.8,455.2 L433.4,454.6 L446.9,455.2 L460.5,459.2 L473.6,462.0 L487.1,466.0 L500.7,469.3 L514.2,470.1 L527.8,470.9 L541.4,471.4 L554.9,473.3 L568.5,475.5 L582.0,477.7 L595.6,480.9 L609.2,486.4 L622.7,493.1 L636.3,499.9 L649.8,506.7 L663.4,514.8 L677.0,523.0 L690.5,529.7 L700.8,533.8 L713.1,537.3 L725.3,537.9 L738.8,537.9 L752.4,537.3 L765.9,536.0 L779.5,532.5 L793.1,527.0 L806.6,518.9 L820.2,509.4 L833.7,502.6 L847.3,494.5 L858.1,489.9 L869.0,487.7 L879.8,487.7 L890.7,487.7 L901.5,490.4 L912.4,493.7 L923.2,495.8 L930.8,498.6 L941.7,501.3 L952.5,506.2 L963.4,510.8 L974.2,514.8 L985.1,516.7 L995.9,515.6 L1006.8,512.9 L1017.6,508.6 L1028.5,502.6 L1039.3,496.7 L1050.2,491.2 L1061.0,487.7 L1071.9,485.8 L1082.7,486.4 L1093.6,488.5 L1104.4,491.8 L1115.3,495.0 L1126.1,498.0 L1140.5,504.8 L1153.1,507.0 L1165.6,509.5 L1178.2,512.3 L1190.7,515.4 L1203.3,517.9 L1210.2,517.9" stroke-linejoin="round" fill="none" stroke="#ec7a7a" stroke-width="1.25"/><path d="M18.4,509.4 L29.3,500.5 L36.6,500.5 L44.7,493.1 L54.2,480.9 L62.4,470.1 L70.5,464.1 L78.6,456.5 L86.8,448.4 L94.9,438.9 L104.4,431.3 L111.7,429.4 L119.3,428.0 L127.5,429.4 L135.6,430.2 L143.7,431.6 L153.2,426.7 L161.4,425.3 L169.5,425.9 L177.6,430.0 L185.8,433.5 L193.9,434.3 L202.0,433.5 L210.2,430.2 L217.0,432.1 L225.1,435.4 L233.2,439.7 L243.6,445.1 L251.7,447.0 L259.8,452.5 L268.0,459.2 L276.1,462.5 L292.4,462.5 L300.5,463.3 L308.6,465.5 L316.8,464.1 L334.4,464.1 L341.2,460.6 L350.7,458.7 L358.8,458.7 L367.0,457.9 L376.4,454.4 L384.6,454.6 L392.7,455.7 L400.8,457.9 L409.0,452.5 L417.1,448.9 L425.3,451.1 L433.4,454.4 L441.5,457.9 L449.7,460.6 L457.8,465.2 L468.1,470.1 L481.7,474.7 L498.0,475.5 L506.1,473.3 L515.6,472.0 L523.7,474.7 L531.9,472.0 L540.0,472.3 L548.1,476.9 L556.3,476.9 L564.4,478.8 L573.9,482.8 L582.0,483.6 L590.2,486.4 L598.3,491.8 L606.4,498.6 L614.6,504.0 L622.7,510.8 L630.8,517.5 L639.0,522.2 L649.8,525.7 L663.4,531.1 L671.5,535.2 L679.7,540.6 L687.8,546.0 L695.9,547.4 L700.8,547.9 L713.1,545.5 L722.5,539.2 L730.7,536.5 L738.8,537.1 L747.0,537.9 L755.1,537.9 L763.2,534.6 L771.4,529.2 L779.5,524.3 L787.6,514.8 L797.1,505.3 L805.3,497.2 L813.4,491.2 L821.5,487.7 L829.7,486.9 L837.8,482.3 L846.7,476.9 L855.4,478.2 L863.6,480.1 L871.7,482.3 L879.8,485.0 L888.0,489.1 L896.1,494.5 L904.2,497.2 L912.4,500.5 L920.5,504.0 L929.5,504.8 L937.6,509.4 L945.8,515.6 L953.9,519.7 L962.0,523.5 L970.2,527.6 L978.3,523.5 L987.8,519.4 L994.6,511.3 L1004.1,507.5 L1012.2,501.8 L1020.3,495.0 L1028.5,483.6 L1036.6,476.0 L1044.7,474.7 L1052.9,475.5 L1061.0,476.0 L1069.2,480.9 L1077.3,486.4 L1085.4,493.1 L1093.6,497.2 L1101.7,499.1 L1109.8,501.3 L1118.0,504.8 L1126.1,508.6 L1137.4,512.3 L1145.3,513.2 L1153.1,516.4 L1159.4,515.4 L1168.8,517.3 L1178.2,518.6 L1186.0,521.7 L1193.9,524.2 L1201.7,524.2 L1209.6,521.1" stroke-linejoin="round" fill="none" stroke="#5a78dc" stroke-width="1.25"/><g shape-rendering="crispEdges"><line x1="8.5" y1="108" x2="8.5" y2="590" stroke="#e3e6ea"/><line x1="9" y1="409.5" x2="1360" y2="409.5" stroke="#4a4a4a"/><line x1="9" y1="560.5" x2="1360" y2="560.5" stroke="#4a4a4a"/><line x1="1296.5" y1="108" x2="1296.5" y2="589" stroke="#555"/><g stroke="#555"><line x1="1297" y1="377.5" x2="1302" y2="377.5"/><line x1="1297" y1="334.5" x2="1302" y2="334.5"/><line x1="1297" y1="291.5" x2="1302" y2="291.5"/><line x1="1297" y1="249.5" x2="1302" y2="249.5"/><line x1="1297" y1="206.5" x2="1302" y2="206.5"/><line x1="1297" y1="164.5" x2="1302" y2="164.5"/><line x1="1297" y1="121.5" x2="1302" y2="121.5"/><line x1="1297" y1="447.5" x2="1302" y2="447.5"/><line x1="1297" y1="495.5" x2="1302" y2="495.5"/><line x1="1297" y1="542.5" x2="1302" y2="542.5"/><line x1="29.5" y1="561" x2="29.5" y2="565"/><line x1="111.5" y1="561" x2="111.5" y2="565"/><line x1="194.5" y1="561" x2="194.5" y2="565"/><line x1="276.5" y1="561" x2="276.5" y2="565"/><line x1="359.5" y1="561" x2="359.5" y2="565"/><line x1="441.5" y1="561" x2="441.5" y2="565"/><line x1="524.5" y1="561" x2="524.5" y2="565"/><line x1="606.5" y1="561" x2="606.5" y2="565"/><line x1="689.5" y1="561" x2="689.5" y2="565"/><line x1="772.5" y1="561" x2="772.5" y2="565"/><line x1="855.5" y1="561" x2="855.5" y2="565"/><line x1="938.5" y1="561" x2="938.5" y2="565"/><line x1="1021.5" y1="561" x2="1021.5" y2="565"/><line x1="1103.5" y1="561" x2="1103.5" y2="565"/><line x1="1186.5" y1="561" x2="1186.5" y2="565"/><line x1="1269.5" y1="561" x2="1269.5" y2="565"/></g></g><rect x="9.5" y="499.5" width="9" height="28" rx="4" fill="#fff" stroke="#8a8a8a" stroke-width="1"/><path d="M12.6,510.5 L14.9,513.3 L12.6,516.1" fill="none" stroke="#8a8a8a" stroke-width="0.9"/></svg>
<div class="a" id="title">Litecoin</div>
<svg class="a" style="left:120px;top:21px" width="17" height="9"><path d="M1,1 L16,1 L8.5,8.5 Z" fill="#cfcfcf"/></svg>
<div class="btnbox" style="left:141px"></div>
<svg class="a" style="left:0;top:0" width="200" height="50"><path d="M156.00,16.10 L158.41,21.68 L164.46,22.25 L159.90,26.27 L161.23,32.20 L156.00,29.10 L150.77,32.20 L152.10,26.27 L147.54,22.25 L153.59,21.68 Z" fill="#0b40b5" stroke="#0b40b5" stroke-width="0.6" stroke-linejoin="round"/></svg>
<div class="btnbox" style="left:181px"></div>
<svg class="a" style="left:186px;top:14px" width="19" height="20" viewBox="0 0 19 20"><path d="M9.5,1.5 C10.3,1.5 10.6,2.2 10.6,2.8 C13.3,3.5 14.6,5.8 14.6,8.6 L14.6,13.2 L16.5,15.3 L16.5,16 L2.5,16 L2.5,15.3 L4.4,13.2 L4.4,8.6 C4.4,5.8 5.7,3.5 8.4,2.8 C8.4,2.2 8.7,1.5 9.5,1.5 Z M7.8,17 L11.2,17 C11,18.2 10.3,18.6 9.5,18.6 C8.7,18.6 8,18.2 7.8,17 Z" fill="#ababab"/></svg>
<div class="a chg" style="left:226px">-9.20</div>
<div class="a chg" style="left:275px">-3.96%</div>

<!-- right icons -->
<svg class="a" style="left:1196px;top:14px" width="172" height="22" viewBox="1196 14 172 22">
 <g fill="#b1b3b8">
  <path d="M1207,16.5 A8.6,8.6 0 1 0 1215.8,25.8 L1207,25.8 Z"/>
  <path d="M1209,15.8 L1209,23.8 L1217.2,23.8 A8.5,8.5 0 0 0 1209,15.8 Z"/>
  <circle cx="1245.7" cy="24.8" r="9"/>
  <circle cx="1283" cy="24.8" r="9"/>
  <rect x="1311.7" y="17.4" width="17.5" height="15.3"/>
  <circle cx="1357.6" cy="24.8" r="9"/>
 </g>
 <path d="M1250.5,20 L1247.6,26.6 L1240.9,29.6 L1243.8,23 Z" fill="#fff"/>
 <circle cx="1245.7" cy="24.8" r="1.5" fill="#b1b3b8"/>
 <path d="M1286.5,19.8 L1283.6,24.8" stroke="#fff" stroke-width="1.6"/>
 <circle cx="1282.7" cy="26" r="2.3" fill="#fff"/>
 <rect x="1311.7" y="21.2" width="17.5" height="0.9" fill="#fff"/>
 <rect x="1315" y="17.8" width="1.2" height="3" fill="#fff"/><rect x="1324.4" y="17.8" width="1.2" height="3" fill="#fff"/>
 <circle cx="1357.6" cy="19.8" r="1.3" fill="#fff"/>
 <path d="M1355.8,22.6 L1358.6,22.6 L1358.6,29.3 L1359.9,29.3 L1359.9,30.6 L1355.4,30.6 L1355.4,29.3 L1356.7,29.3 L1356.7,23.8 L1355.8,23.8 Z" fill="#fff"/>
</svg>

<!-- toolbar items -->
<div class="tb" style="left:18px;color:#3d8fe0">1m</div>
<div class="tb" style="left:52px">5m</div>
<div class="tb" style="left:86.5px">15m</div>
<div class="tb" style="left:128px">30m</div>
<div class="tb" style="left:171px">1h</div>
<div class="tb" style="left:200px">2h</div>
<div class="tb" style="left:229.5px">4h</div>
<div class="tb" style="left:259px">D</div>
<div class="tb" style="left:281.5px">W</div>
<div class="tb" style="left:307.5px">M</div>
<svg class="a" style="left:334px;top:84px" width="10" height="6"><path d="M1,1 L5,4.6 L9,1" fill="none" stroke="#444" stroke-width="1.2"/></svg>
<svg class="a" style="left:363px;top:75px" width="20" height="24" viewBox="0 0 20 24">
 <g fill="none" stroke="#2a2a2a" stroke-width="1.2">
  <rect x="3.2" y="5.1" width="4.3" height="13.2" rx="0.4"/><line x1="5.35" y1="1.2" x2="5.35" y2="5.1"/><line x1="5.35" y1="18.3" x2="5.35" y2="22.6"/>
  <rect x="11.8" y="8.6" width="4.3" height="6.6" rx="0.4"/><line x1="13.95" y1="4.8" x2="13.95" y2="8.6"/><line x1="13.95" y1="15.2" x2="13.95" y2="19.4"/>
 </g>
</svg>
<svg class="a" style="left:401px;top:77px" width="28" height="24" viewBox="0 0 28 24">
 <path d="M1.9,9.7 L8,3.8 L15.1,9.4 L21.4,4.25" fill="none" stroke="#2a2a2a" stroke-width="1.3" stroke-linejoin="round"/>
 <path d="M20.4,12.2 L20.4,21.8 M15.6,17 L25.2,17" stroke="#333" stroke-width="1.3"/>
</svg>
<div class="tb" style="left:432px;top:78px">Các chỉ báo</div>
<svg class="a" style="left:532.8px;top:74.7px" width="24" height="24" viewBox="0 0 24 24">
 <path d="M10.27,4.50 L10.44,2.12 L13.56,2.12 L13.73,4.50 A7.7,7.7 0 0 1 16.08,5.47 L17.88,3.91 L20.09,6.12 L18.53,7.92 A7.7,7.7 0 0 1 19.50,10.27 L21.88,10.44 L21.88,13.56 L19.50,13.73 A7.7,7.7 0 0 1 18.53,16.08 L20.09,17.88 L17.88,20.09 L16.08,18.53 A7.7,7.7 0 0 1 13.73,19.50 L13.56,21.88 L10.44,21.88 L10.27,19.50 A7.7,7.7 0 0 1 7.92,18.53 L6.12,20.09 L3.91,17.88 L5.47,16.08 A7.7,7.7 0 0 1 4.50,13.73 L2.12,13.56 L2.12,10.44 L4.50,10.27 A7.7,7.7 0 0 1 5.47,7.92 L3.91,6.12 L6.12,3.91 L7.92,5.47 A7.7,7.7 0 0 1 10.27,4.50 Z" fill="none" stroke="#2a2a2a" stroke-width="1.3" stroke-linejoin="round"/>
 <circle cx="12" cy="12" r="2.9" fill="none" stroke="#2a2a2a" stroke-width="1.3"/>
</svg>

<!-- legend -->
<svg class="a" style="left:22px;top:122px" width="14" height="14" viewBox="0 0 14 14"><rect x="0.6" y="0.6" width="12.8" height="12.8" rx="2" fill="#fff" stroke="#777" stroke-width="1.1"/><path d="M7,3 L7,11 M3,7 L11,7" stroke="#999" stroke-width="1.3"/></svg>
<div class="lg" style="left:48px;font-size:15.8px;letter-spacing:-0.2px">LTCUSD, 1</div>
<svg class="a" style="left:130px;top:126px" width="10" height="6"><path d="M1,1 L5,4.6 L9,1" fill="none" stroke="#444" stroke-width="1.2"/></svg>
<div class="lg" style="left:170px">O<span>222.58</span></div>
<div class="lg" style="left:245.5px">H<span>223.28</span></div>
<div class="lg" style="left:320.3px">L<span>222.58</span></div>
<div class="lg" style="left:393px">C<span>223.28</span></div>

<div class="pl" style="top:370.8px">221.00</div><div class="pl" style="top:328.2px">222.00</div><div class="pl" style="top:285.6px">223.00</div><div class="pl" style="top:243.0px">224.00</div><div class="pl" style="top:200.5px">225.00</div><div class="pl" style="top:157.9px">226.00</div><div class="pl" style="top:115.3px">227.00</div><div class="pl" style="top:440.7px;left:1306px">0.5000</div><div class="pl" style="top:488.2px;left:1306px">0.0000</div><div class="pl" style="top:535.7px;left:1305.5px">−0.5000</div><div class="tl b" style="left:-0.7px">12:00</div><div class="tl" style="left:81.9px">12:10</div><div class="tl" style="left:164.5px">12:20</div><div class="tl" style="left:247.1px">12:30</div><div class="tl" style="left:329.7px">12:40</div><div class="tl" style="left:412.3px">12:50</div><div class="tl b" style="left:494.9px">13:00</div><div class="tl" style="left:577.5px">13:10</div><div class="tl" style="left:660.1px">13:20</div><div class="tl" style="left:742.7px">13:30</div><div class="tl" style="left:825.3px">13:40</div><div class="tl" style="left:907.9px">13:50</div><div class="tl b" style="left:990.5px">14:00</div><div class="tl" style="left:1073.1px">14:10</div><div class="tl" style="left:1155.7px">14:20</div><div class="tl" style="left:1238.3px">14:30</div>
<div class="a" style="left:1296.5px;top:271px;width:56.5px;height:18px;background:#1f9c6d"></div>
<div class="a" style="left:1297px;top:279.4px;width:4.5px;height:1.2px;background:#fff"></div>
<div class="a" style="left:1306px;top:273px;font-size:12.5px;font-weight:bold;color:#fff;line-height:14px">223.28</div>
<svg class="a" style="left:1317px;top:566px" width="20" height="20" viewBox="0 0 20 20">
 <circle cx="10" cy="10" r="5.2" fill="none" stroke="#222" stroke-width="1.3"/>
 <g stroke="#222" stroke-width="1.3"><line x1="10" y1="1.5" x2="10" y2="4.8"/><line x1="10" y1="15.2" x2="10" y2="18.5"/><line x1="1.5" y1="10" x2="4.8" y2="10"/><line x1="15.2" y1="10" x2="18.5" y2="10"/>
 <line x1="4" y1="4" x2="6.3" y2="6.3"/><line x1="13.7" y1="13.7" x2="16" y2="16"/><line x1="16" y1="4" x2="13.7" y2="6.3"/><line x1="4" y1="16" x2="6.3" y2="13.7"/></g>
</svg>

<!-- buy/sell panel -->
<div id="panel"></div>
<div class="bs" style="left:1059px;width:134px">Bán 223.28</div>
<div class="bs" style="left:1206px;width:137px">Mua 224.93</div>
<svg class="a" style="left:1350px;top:50px" width="16" height="45" viewBox="1350 50 16 45">
 <g fill="#c9c9c9"><rect x="1351.7" y="51.0" width="2" height="2"/><rect x="1356.9" y="51.0" width="2" height="2"/><rect x="1361.6" y="51.0" width="2" height="2"/><rect x="1351.7" y="55.4" width="2" height="2"/><rect x="1356.9" y="55.4" width="2" height="2"/><rect x="1361.6" y="55.4" width="2" height="2"/><rect x="1351.7" y="59.8" width="2" height="2"/><rect x="1356.9" y="59.8" width="2" height="2"/><rect x="1361.6" y="59.8" width="2" height="2"/><rect x="1351.7" y="66.3" width="2" height="2"/><rect x="1356.9" y="66.3" width="2" height="2"/><rect x="1361.6" y="66.3" width="2" height="2"/><rect x="1351.7" y="70.7" width="2" height="2"/><rect x="1356.9" y="70.7" width="2" height="2"/><rect x="1361.6" y="70.7" width="2" height="2"/><rect x="1351.7" y="75.1" width="2" height="2"/><rect x="1356.9" y="75.1" width="2" height="2"/><rect x="1361.6" y="75.1" width="2" height="2"/><rect x="1351.7" y="81.7" width="2" height="2"/><rect x="1356.9" y="81.7" width="2" height="2"/><rect x="1361.6" y="81.7" width="2" height="2"/><rect x="1351.7" y="86.1" width="2" height="2"/><rect x="1356.9" y="86.1" width="2" height="2"/><rect x="1361.6" y="86.1" width="2" height="2"/><rect x="1351.7" y="90.5" width="2" height="2"/><rect x="1356.9" y="90.5" width="2" height="2"/><rect x="1361.6" y="90.5" width="2" height="2"/></g>
</svg>
<svg class="a" style="left:1253px;top:61px" width="24" height="28" viewBox="0 0 24 28">
 <path d="M7.6,2.6 C7.6,0.6 10.6,0.6 10.6,2.6 L10.6,9 C10.6,7.2 13.2,7.2 13.2,9 L13.2,9.6 C13.2,7.8 15.8,7.8 15.8,9.6 L15.8,10.3 C15.8,8.5 18.8,8.5 18.8,10.3 L18.8,17.2 C18.8,21.6 16.9,24.5 13.2,24.5 L11.8,24.5 C9.4,24.5 8,23.4 6.6,21.5 L2.6,15.6 C1.6,14 3.4,12.3 4.8,13.6 L7.6,16.3 Z" fill="#fff" stroke="#111" stroke-width="1.3" stroke-linejoin="round"/>
 <path d="M10.6,9 L10.6,14 M13.2,9.6 L13.2,14 M15.8,10.3 L15.8,14" stroke="#111" stroke-width="1"/>
</svg>
</body></html>
